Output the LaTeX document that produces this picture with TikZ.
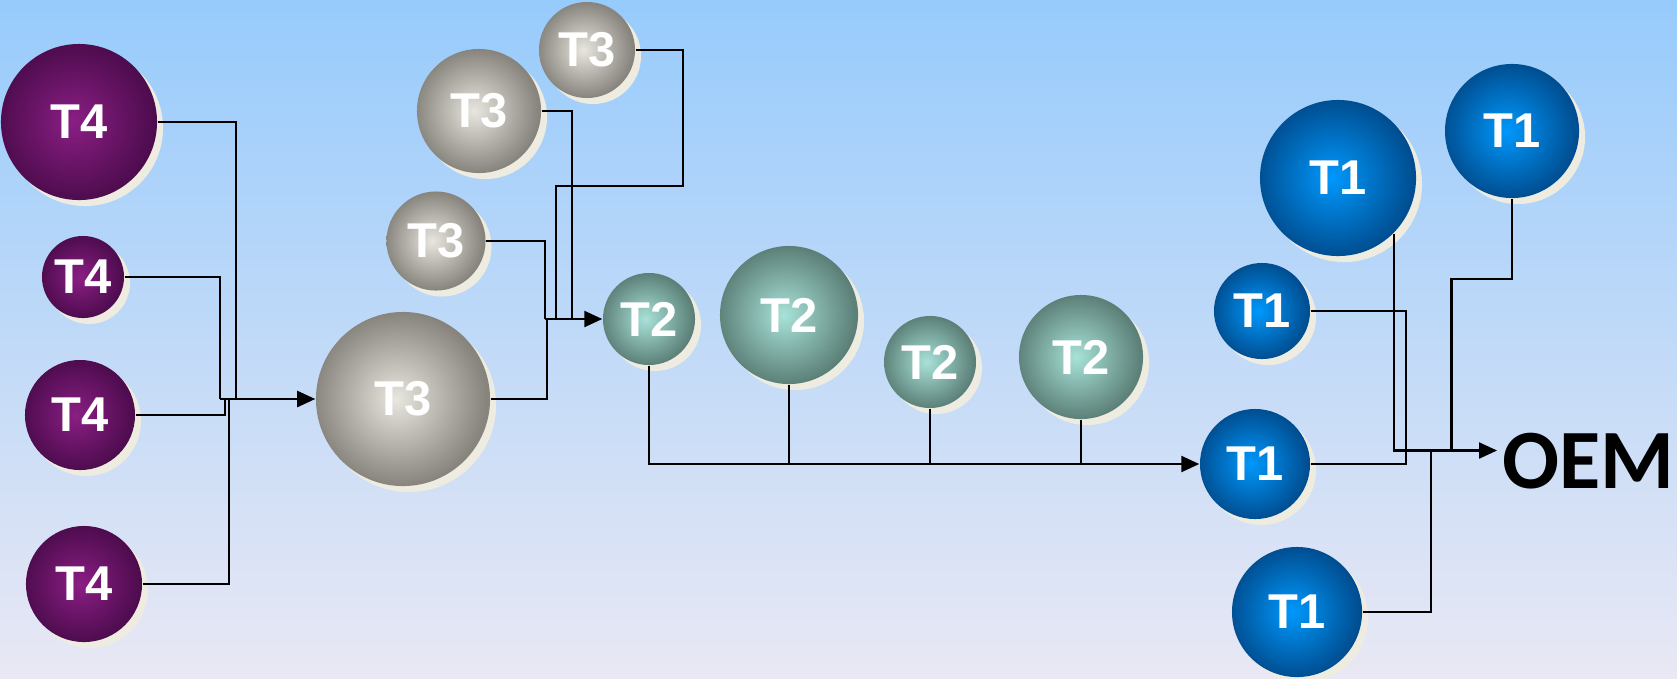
\documentclass[tikz,border=0pt]{standalone}
\usepackage{fontspec}
\setmainfont{Liberation Sans}
\newfontfamily\oemfont{Carlito}
\usepackage{xcolor}
\usetikzlibrary{arrows.meta, shadows}

\definecolor{bgtop}{RGB}{151,203,252}
\definecolor{bgbot}{RGB}{233,232,244}
\definecolor{cream}{RGB}{238,236,224}
\definecolor{plumhi}{RGB}{138,30,132}
\definecolor{plumlo}{RGB}{78,12,78}
\definecolor{stonehi}{RGB}{232,230,222}
\definecolor{stonelo}{RGB}{134,132,124}
\definecolor{tealhi}{RGB}{168,226,216}
\definecolor{teallo}{RGB}{92,128,120}
\definecolor{oceanhi}{RGB}{0,152,252}
\definecolor{oceanlo}{RGB}{0,78,145}

% sphere shading, colours picked per node
\colorlet{sphhi}{white}
\colorlet{sphlo}{gray}
\pgfdeclareradialshading[sphhi,sphlo]{sphere}{\pgfpoint{-2bp}{0bp}}{color(0bp)=(sphhi); color(25bp)=(sphlo); color(50bp)=(sphlo)}

\begin{document}
\begin{tikzpicture}[x=0.01cm, y=-0.01cm,
    tone/.code 2 args={\colorlet{sphhi}{#1}\colorlet{sphlo}{#2}},
    bubble/.style={circle, inner sep=0pt, minimum size=#1, text=white, font=\bfseries\fontsize{13.9}{14}\selectfont, shade, shading=sphere, drop shadow={shadow xshift=.06cm, shadow yshift=-.06cm, fill=cream, opacity=1}},
    tierfour/.style={bubble=#1, tone={plumhi}{plumlo}},
    tierthree/.style={bubble=#1, tone={stonehi}{stonelo}},
    tiertwo/.style={bubble=#1, tone={tealhi}{teallo}},
    tierone/.style={bubble=#1, tone={oceanhi}{oceanlo}},
    wire/.style={line width=.65pt, black},
    feed/.style={wire, -{Triangle[length=.18cm, width=.16cm]}},
]
    \useasboundingbox (0,0) rectangle (1677,678);
    \shade[top color=bgtop, bottom color=bgbot] (0,0) rectangle (1677,678);

    % Tier 4
    \node[tierfour=1.56cm] (t4a) at (79,122) {T4};
    \node[tierfour=0.82cm] (t4b) at (83,277) {T4};
    \node[tierfour=1.10cm] (t4c) at (80,415) {T4};
    \node[tierfour=1.16cm] (t4d) at (84,584) {T4};

    % Tier 3
    \node[tierthree=1.74cm] (t3big) at (403,399) {T3};
    \node[tierthree=0.99cm] (t3c) at (436,241) {T3};
    \node[tierthree=1.24cm] (t3b) at (479,111) {T3};
    \node[tierthree=0.96cm] (t3a) at (587,50) {T3};

    % Tier 2
    \node[tiertwo=0.92cm] (t2a) at (649,319) {T2};
    \node[tiertwo=1.38cm] (t2b) at (789,315) {T2};
    \node[tiertwo=0.92cm] (t2c) at (930,362) {T2};
    \node[tiertwo=1.24cm] (t2d) at (1081,357) {T2};

    % Tier 1
    \node[tierone=1.56cm] (t1a) at (1338,178) {T1};
    \node[tierone=1.34cm] (t1b) at (1512,131) {T1};
    \node[tierone=0.96cm] (t1c) at (1262,311) {T1};
    \node[tierone=1.10cm] (t1d) at (1255,464) {T1};
    \node[tierone=1.30cm] (t1e) at (1297,612) {T1};

    \node[anchor=west, inner sep=.05cm, font=\oemfont\bfseries\fontsize{24}{26}\selectfont] (oem) at (1497,461) {OEM};

    \coordinate (bus4) at (220,399);
    \coordinate (bus3) at (545,319);
    \coordinate (loop3) at (683,186);

    % T4 -> T3
    \draw[wire] (t4a.east) -| ([xshift=.16cm]bus4);
    \draw[wire] (t4b.east) -| (bus4);
    \draw[wire] (t4c.east) -| ([xshift=.05cm]bus4);
    \draw[wire] (t4d.east) -| ([xshift=.09cm]bus4);
    \draw[feed] (bus4) -- (t3big.west);

    % T3 -> T2
    \draw[wire] (t3big.east) -| ([xshift=.02cm]bus3);
    \draw[wire] (t3c.east) -| (bus3);
    \draw[wire] (t3b.east) -| ([xshift=.27cm]bus3);
    \draw[wire] (t3a.east) -| (loop3) -| ([xshift=.11cm]bus3);
    \draw[feed] (bus3) -- (t2a.west);

    % T2 -> T1
    \draw[feed] (t2a.south) |- (t1d.west);
    \foreach \t in {t2b, t2c, t2d}
        \draw[wire] (\t.south) -- (\t.south |- t1d.west);

    % T1 -> OEM
    \draw[feed] (t1a.south east) |- ([yshift=.105cm]oem.west);
    \draw[wire] (t1b.south) -- ++(0cm,-.8cm) -| ([yshift=.105cm, xshift=-.455cm]oem.west);
    \draw[wire] (t1c.east) -| ([xshift=.955cm]t1d.east) -- (t1d.east);
    \draw[wire] (t1e.east) -| ([yshift=.105cm, xshift=-.66cm]oem.west);
\end{tikzpicture}
\end{document}
